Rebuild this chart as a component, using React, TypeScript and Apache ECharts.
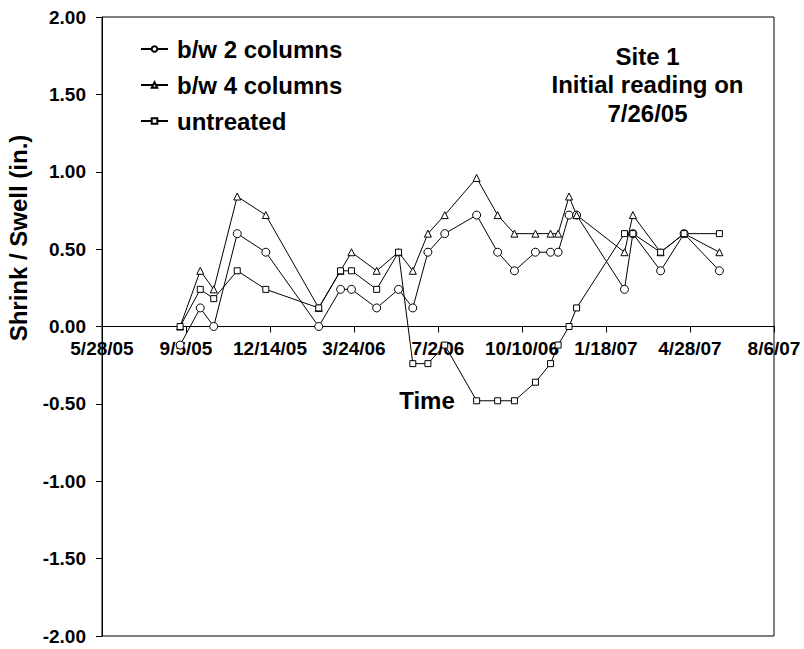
import React, { useEffect, useRef } from "react";
import * as echarts from "echarts";

// Reading dates (x) and shrink/swell readings in inches (y)
const dates = [
  "2005-08-29", "2005-09-22", "2005-10-08", "2005-11-05", "2005-12-09",
  "2006-02-10", "2006-03-08", "2006-03-21", "2006-04-20", "2006-05-16",
  "2006-06-02", "2006-06-20", "2006-07-10", "2006-08-17", "2006-09-11",
  "2006-10-01", "2006-10-26", "2006-11-13", "2006-11-22", "2006-12-05",
  "2006-12-14", "2007-02-09", "2007-02-19", "2007-03-24", "2007-04-21",
  "2007-06-02",
];
const bw2Columns = [
  -0.12, 0.12, 0.0, 0.6, 0.48, 0.0, 0.24, 0.24, 0.12, 0.24,
  0.12, 0.48, 0.6, 0.72, 0.48, 0.36, 0.48, 0.48, 0.48, 0.72,
  0.72, 0.24, 0.6, 0.36, 0.6, 0.36,
];
const bw4Columns = [
  0.0, 0.36, 0.24, 0.84, 0.72, 0.12, 0.36, 0.48, 0.36, 0.48,
  0.36, 0.6, 0.72, 0.96, 0.72, 0.6, 0.6, 0.6, 0.6, 0.84,
  0.72, 0.48, 0.72, 0.48, 0.6, 0.48,
];
const untreated = [
  0.0, 0.24, 0.18, 0.36, 0.24, 0.12, 0.36, 0.36, 0.24, 0.48,
  -0.24, -0.24, -0.12, -0.48, -0.48, -0.48, -0.36, -0.24, -0.12, 0.0,
  0.12, 0.6, 0.6, 0.48, 0.6, 0.6,
];
const seriesNames = ["b/w 2 columns", "b/w 4 columns", "untreated"];
const xTickLabels = [
  "5/28/05", "9/5/05", "12/14/05", "3/24/06", "7/2/06",
  "10/10/06", "1/18/07", "4/28/07", "8/6/07",
];
const yTickValues = [-2, -1.5, -1, -0.5, 0, 0.5, 1, 1.5, 2];
const titleLines = ["Site 1", "Initial reading on", "7/26/05"];
const xAxisTitle = "Time";
const yAxisTitle = "Shrink / Swell (in.)";

const DAY_MS = 86400000;
const AXIS_START = Date.UTC(2005, 4, 28); // 5/28/05
const TICK_DAYS = 100;
const toDay = (s: string) => {
  const [y, m, d] = s.split("-").map(Number);
  return Math.round((Date.UTC(y, m - 1, d) - AXIS_START) / DAY_MS);
};

const FONT = "'Liberation Sans', Arial, sans-serif";
const W = 804;
const H = 649;
const GRID = { left: 102, right: 30, top: 17, bottom: 13 };

export default function App() {
  const ref = useRef<HTMLDivElement>(null);

  useEffect(() => {
    if (!ref.current) return;
    const chart = echarts.init(ref.current, null, { renderer: "svg" });
    const mk = (vals: number[]) => dates.map((d, i) => [toDay(d), vals[i]]);
    const yMin = yTickValues[0];
    const yMax = yTickValues[yTickValues.length - 1];
    // the category (time) axis crosses the value axis at 0
    const gridH = H - GRID.top - GRID.bottom;
    const xAxisOffset = -gridH * ((0 - yMin) / (yMax - yMin));
    const common = {
      type: "line" as const,
      lineStyle: { color: "#000", width: 1 },
      itemStyle: { color: "#fff", borderColor: "#000", borderWidth: 1 },
      emphasis: { disabled: true },
      silent: true,
    };
    chart.setOption({
      animation: false,
      backgroundColor: "#fff",
      grid: {
        ...GRID,
        show: true,
        borderColor: "#000",
        borderWidth: 1,
        backgroundColor: "transparent",
        containLabel: false,
        outerBoundsMode: "none",
      },
      xAxis: {
        type: "value",
        min: 0,
        max: (xTickLabels.length - 1) * TICK_DAYS,
        interval: TICK_DAYS,
        position: "bottom",
        offset: xAxisOffset,
        axisLine: { show: true, onZero: false, lineStyle: { color: "#000", width: 1 } },
        axisTick: { show: true, inside: false, length: 6, lineStyle: { color: "#000", width: 1 } },
        axisLabel: {
          formatter: (v: number) => xTickLabels[Math.round(v / TICK_DAYS)] ?? "",
          fontSize: 19,
          fontWeight: "bold",
          fontFamily: FONT,
          color: "#000",
          margin: 12,
          showMinLabel: true,
          showMaxLabel: true,
        },
        splitLine: { show: false },
      },
      yAxis: {
        type: "value",
        min: yMin,
        max: yMax,
        interval: 0.5,
        axisLine: { show: true, onZero: false, lineStyle: { color: "#000", width: 1 } },
        axisTick: { show: true, inside: false, length: 6, lineStyle: { color: "#000", width: 1 } },
        axisLabel: {
          formatter: (v: number) => v.toFixed(2),
          fontSize: 19,
          fontWeight: "bold",
          fontFamily: FONT,
          color: "#000",
          margin: 16,
        },
        splitLine: { show: false },
      },
      legend: {
        orient: "vertical",
        left: 140,
        top: 37,
        padding: 0,
        itemWidth: 27,
        itemHeight: 7,
        itemGap: 12,
        data: seriesNames,
        textStyle: {
          fontSize: 24,
          fontWeight: "bold",
          fontFamily: FONT,
          color: "#000",
          lineHeight: 24,
          padding: [0, 0, 0, 4],
        },
      },
      series: [
        { ...common, name: seriesNames[0], data: mk(bw2Columns), symbol: "circle", symbolSize: 8 },
        { ...common, name: seriesNames[1], data: mk(bw4Columns), symbol: "triangle", symbolSize: [7, 7] },
        { ...common, name: seriesNames[2], data: mk(untreated), symbol: "rect", symbolSize: 6 },
      ],
      graphic: [
        {
          type: "text",
          x: 647.5,
          y: 42,
          silent: true,
          style: {
            text: titleLines.join("\n"),
            fontSize: 24,
            fontWeight: "bold",
            fontFamily: FONT,
            fill: "#000",
            lineHeight: 28.5,
            textAlign: "center",
            textVerticalAlign: "top",
          },
        },
        {
          type: "text",
          x: 427,
          y: 400,
          silent: true,
          style: {
            text: xAxisTitle,
            fontSize: 24,
            fontWeight: "bold",
            fontFamily: FONT,
            fill: "#000",
            textAlign: "center",
            textVerticalAlign: "middle",
          },
        },
        {
          type: "text",
          x: 18,
          y: 238,
          rotation: Math.PI / 2,
          silent: true,
          style: {
            text: yAxisTitle,
            fontSize: 24,
            fontWeight: "bold",
            fontFamily: FONT,
            fill: "#000",
            textAlign: "center",
            textVerticalAlign: "middle",
          },
        },
      ],
    });
    return () => chart.dispose();
  }, []);

  return (
    <div
      ref={ref}
      style={{ position: "absolute", left: 0, top: 0, width: W, height: H }}
    />
  );
}
